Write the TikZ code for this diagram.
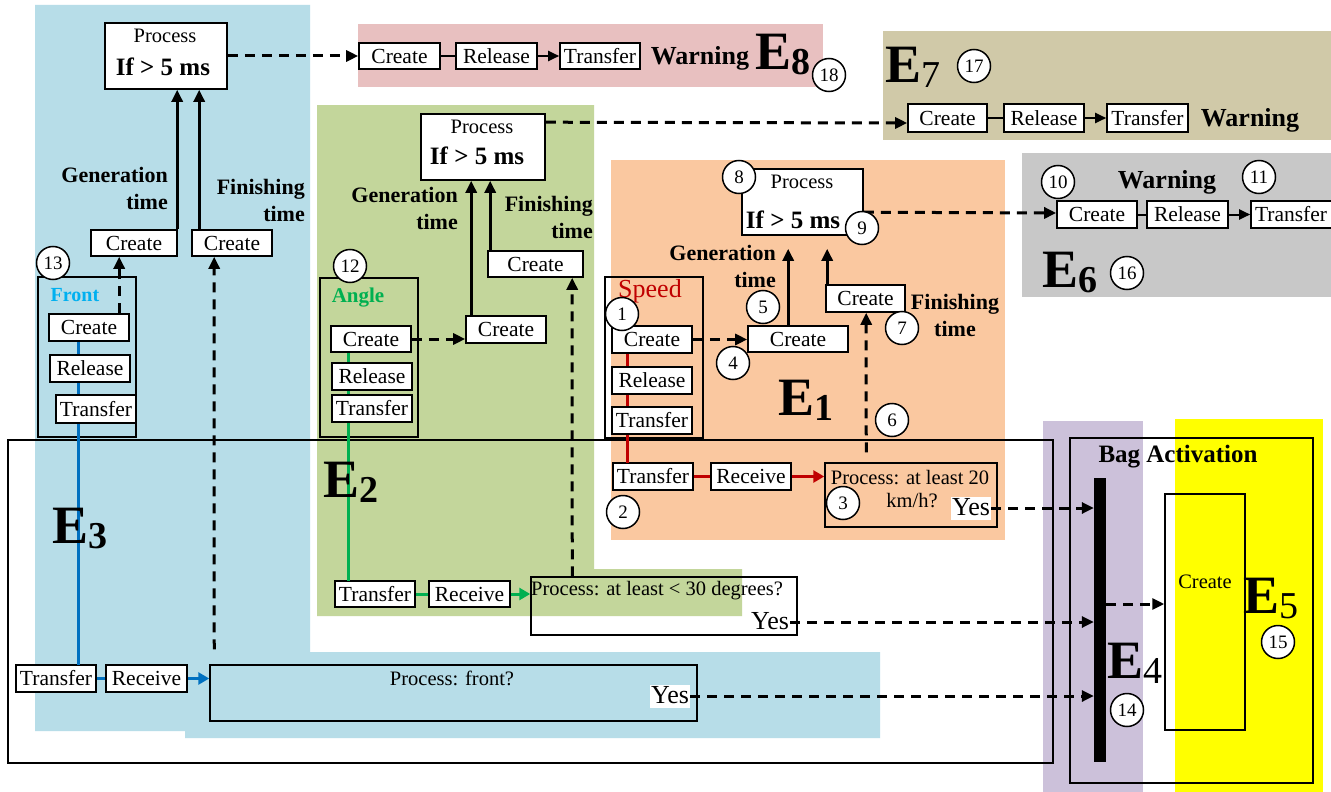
\documentclass[tikz,border=0pt]{standalone}
\usepackage{fontspec}
\setmainfont{Liberation Serif}
\usetikzlibrary{arrows.meta,calc}
\definecolor{bgblue}{HTML}{B7DDE8}
\definecolor{bggreen}{HTML}{C3D69B}
\definecolor{bgorange}{HTML}{FAC8A0}
\definecolor{bgpink}{HTML}{E8C0C0}
\definecolor{bgtan}{HTML}{D0C9A8}
\definecolor{bggray}{HTML}{C8C8C8}
\definecolor{bgpurple}{HTML}{CCC1DA}
\definecolor{bgyellow}{HTML}{FFFF00}
\definecolor{lred}{HTML}{C00000}
\definecolor{lgreen}{HTML}{00B050}
\definecolor{lblue}{HTML}{0070C0}
\definecolor{tblue}{HTML}{00B0F0}
\begin{document}
\begin{tikzpicture}[x=1pt,y=-1pt,
 box/.style={draw,fill=white,line width=1.6pt,inner sep=0pt,minimum width=80pt,minimum height=26pt,font=\fontsize{21.5}{21.5}\selectfont},
 frame/.style={draw,line width=1.5pt,inner sep=0pt},
 num/.style={circle,draw,fill=white,line width=1.5pt,minimum size=33pt,inner sep=0pt,font=\fontsize{19}{19}\selectfont},
 lbl/.style={inner sep=0pt,font=\fontsize{22}{27}\selectfont\bfseries},
 proca/.style={inner sep=0pt,font=\fontsize{20.5}{20.5}\selectfont},
 procb/.style={inner sep=0pt,font=\fontsize{25}{25}\selectfont\bfseries},
 warn/.style={inner sep=0pt,font=\fontsize{26}{26}\selectfont\bfseries},
 elbl/.style={inner sep=0pt,anchor=base west,font=\fontsize{54}{54}\selectfont\bfseries},
 yes/.style={fill=white,inner sep=1pt,text height=18pt,text depth=3pt,font=\fontsize{26}{26}\selectfont},
 solidarr/.style={line width=3pt,-{Triangle[length=12pt,width=11pt]}},
 dasharr/.style={line width=3pt,dash pattern=on 10pt off 7pt,-{Triangle[length=12pt,width=11pt]}},
 thinline/.style={line width=2pt},
 thinarr/.style={line width=2pt,-{Triangle[length=11pt,width=10pt]}},
]
\useasboundingbox (0,0) rectangle (1331,792);
\fill[white] (0,0) rectangle (1331,792);
% backgrounds
\fill[bgblue] (35,5) -- (310,5) -- (310,652) -- (880,652) -- (880,738) -- (185,738) -- (185,731) -- (35,731) -- cycle;
\fill[bggreen] (317,105) -- (594,105) -- (594,569) -- (742,569) -- (742,616) -- (317,616) -- cycle;
\fill[bgorange] (611,160) rectangle (1005,540);
\fill[bgpink] (358,24) rectangle (823,87);
\fill[bgtan] (883,31) rectangle (1331,140);
\fill[bggray] (1022,153) rectangle (1331,297);
\fill[bgpurple] (1043,421) rectangle (1143,792);
\fill[bgyellow] (1175,419) rectangle (1323,792);
% frames
\node[frame,minimum width=1045pt,minimum height=323pt] (bigframe) at (530.5,601.5) {};
\node[frame,minimum width=243pt,minimum height=345pt] (bagrect) at (1191.5,610.5) {};
\node[frame,minimum width=98pt,minimum height=160pt] (frontbox) at (87,357) {};
\node[frame,minimum width=98pt,minimum height=159pt] (anglebox) at (369,357.5) {};
\node[frame,minimum width=98pt,minimum height=161pt] (speedbox) at (654,357.5) {};
\node[frame,minimum width=80pt,minimum height=236pt] (e5create) at (1205,612) {};
\node[proca] (e5createl) at (1205,582) {Create};
\node[fill=black,inner sep=0pt,minimum width=12pt,minimum height=284pt] (bar) at (1100,620) {};
% bottom process boxes (unfilled)
\node[frame,minimum width=487pt,minimum height=56pt] (bFront) at (453.5,693) {};
\node[frame,minimum width=266pt,minimum height=58pt] (grProc) at (664,606) {};
\node[frame,minimum width=172pt,minimum height=64pt] (sProc) at (911,495) {};
% nodes: blue column
\node[box,minimum width=122pt,minimum height=66pt] (procA) at (166,56) {};
\node[box,minimum width=86pt] (createA1) at (134,243) {Create};
\node[box] (createA2) at (232,243) {Create};
\node[box,minimum height=27pt] (bTransfer) at (56,678.5) {Transfer};
\node[box,minimum width=81pt,minimum height=27pt] (bReceive) at (146.5,678.5) {Receive};
% green
\node[box,minimum width=124pt,minimum height=66pt] (procB) at (483,147) {};
\node[box,minimum width=95pt] (cBfin) at (535.5,264) {Create};
\node[box,minimum height=27pt] (cBgen) at (506,329.5) {Create};
\node[box] (grTransfer) at (375,594) {Transfer};
\node[box,minimum width=81pt] (grReceive) at (469.5,594) {Receive};
% orange
\node[box,minimum width=121pt,minimum height=66pt] (procC) at (802.5,202) {};
\node[box,minimum width=100pt] (cCgen) at (798,339) {Create};
\node[box,minimum width=79pt,minimum height=27pt] (cCfin) at (865.5,298.5) {Create};
\node[box,minimum height=27pt] (sbTransfer) at (653,476.5) {Transfer};
\node[box,minimum height=27pt] (sbReceive) at (751,476.5) {Receive};
% colored vertical lines (behind boxes)
\draw[lblue,line width=3pt] (78,341) -- (78,665);
\draw[lgreen,line width=3pt] (348,352) -- (348,581);
\draw[lred,line width=3pt] (627,353) -- (627,463);
% column boxes
\node[box,minimum height=27pt] (fCreate) at (89,327.5) {Create};
\node[box,minimum height=27pt] (fRelease) at (90,368.5) {Release};
\node[box,minimum height=28pt] (fTransfer) at (96,409) {Transfer};
\node[box] (aCreate) at (371,339) {Create};
\node[box,minimum height=27pt] (aRelease) at (372,376.5) {Release};
\node[box,minimum height=27pt] (aTransfer) at (372,408.5) {Transfer};
\node[box,minimum height=27pt] (sCreate) at (652,339.5) {Create};
\node[box,minimum height=27pt] (sRelease) at (652,380.5) {Release};
\node[box,minimum height=27pt] (sTransfer) at (652,420.5) {Transfer};
% warning rows
\node[box,minimum width=81pt] (pCreate) at (399.5,56) {Create};
\node[box,minimum width=81pt] (pRelease) at (496.5,56) {Release};
\node[box] (pTransfer) at (600,56) {Transfer};
\node[box,minimum width=79pt,minimum height=28pt] (tCreate) at (947.5,118) {Create};
\node[box,minimum height=28pt] (tRelease) at (1044,118) {Release};
\node[box,minimum width=81pt,minimum height=28pt] (tTransfer) at (1147.5,118) {Transfer};
\node[box,minimum height=27pt] (g6Create) at (1097,214.5) {Create};
\node[box,minimum width=81pt,minimum height=27pt] (g6Release) at (1187.5,214.5) {Release};
\node[box,minimum width=90pt,minimum height=27pt] (g6Transfer) at (1296,214.5) {\makebox[90pt][l]{\hspace{4pt}Transfer}};
% row connectors
\draw[thinline] (pCreate.east) -- (pRelease.west);
\draw[thinarr] (pRelease.east) -- (pTransfer.west);
\draw[thinline] (tCreate.east) -- (tRelease.west);
\draw[thinarr] (tRelease.east) -- (tTransfer.west);
\draw[thinline] (g6Create.east) -- (g6Release.west);
\draw[thinarr] (g6Release.east) -- (g6Transfer.west);
\draw[lblue,line width=3pt] (bTransfer.east) -- (bReceive.west);
\draw[lblue,line width=3pt,-{Triangle[length=11pt,width=12pt]}] (bReceive.east) -- (bReceive.east -| bFront.west);
\draw[lgreen,line width=3pt] (grTransfer.east) -- (grReceive.west);
\draw[lgreen,line width=3pt,-{Triangle[length=11pt,width=12pt]}] (grReceive.east) -- (grReceive.east -| grProc.west);
\draw[lred,line width=3pt] (sbTransfer.east) -- (sbReceive.west);
\draw[lred,line width=3pt,-{Triangle[length=11pt,width=12pt]}] (sbReceive.east) -- (sbReceive.east -| sProc.west);
% solid time arrows
\draw[solidarr] ($(createA1.north west)+(87,0)$) -- ($(procA.south west)+(73,0)$);
\draw[solidarr] ($(createA2.north west)+(8,0)$) -- ($(procA.south west)+(95,0)$);
\draw[solidarr] ($(cBgen.north west)+(6,0)$) -- ($(procB.south west)+(51,0)$);
\draw[solidarr] ($(cBfin.north west)+(3,0)$) -- ($(procB.south west)+(70,0)$);
\draw[solidarr] ($(cCgen.north west)+(41,0)$) -- ($(procC.south west)+(47,13)$);
\draw[solidarr] ($(cCfin.north west)+(2,0)$) -- ($(procC.south west)+(86,13)$);
% dashed arrows
\draw[dasharr] ($(fCreate.north west)+(71,0)$) -- ($(createA1.south west)+(29,0)$);
\draw[dasharr,shorten <=15pt] ($(bFront.north west)+(5,0)$) -- ($(createA2.south west)+(23,0)$);
\draw[dasharr] ($(grProc.north west)+(42,0)$) -- ($(cBfin.south west)+(85,0)$);
\draw[dasharr,shorten <=10pt] ($(sProc.north west)+(42,0)$) -- ($(cCfin.south west)+(41,0)$);
\draw[dasharr] (aCreate.east) -- (aCreate.east -| cBgen.west);
\draw[dasharr] (sCreate.east) -- (sCreate.east -| cCgen.west);
\draw[dasharr] (procA.east) -- (pCreate.west);
\draw[dasharr] ($(procB.north east)+(0,9)$) -- ($(tCreate.west)+(0,5)$);
\draw[dasharr] ($(procC.north east)+(0,44)$) -- ($(g6Create.west)+(0,-1.5)$);
\draw[dasharr] ($(bar.east)+(0,-16)$) -- ($(e5create.west)+(0,-8)$);
% yes boxes and arrows to bar
\node[yes] (sYes) at (971,508) {Yes};
\node[yes] (grYes) at (770,622) {Yes};
\node[yes] (bYes) at (670,696) {Yes};
\draw[dasharr] (sYes.east) -- (sYes.east -| bar.west);
\draw[dasharr] (grYes.east) -- (grYes.east -| bar.west);
\draw[dasharr] (bYes.east) -- (bYes.east -| bar.west);
% process texts
\node[proca] (procAl1) at (165,36) {Process};
\node[procb] (procAl2) at (163,67) {If > 5 ms};
\node[proca] (procBl1) at (482,127) {Process};
\node[procb] (procBl2) at (477,156) {If > 5 ms};
\node[proca] (procCl1) at (802,182) {Process};
\node[procb] (procCl2) at (793,220) {If > 5 ms};
\node[proca] (bFrontl) at (452,678) {Process: front?};
\node[proca,anchor=west] (grProcl) at (531,591) {Process: at least < 30 degrees?};
\node[proca] (sProcl1) at (910,478) {Process: at least 20};
\node[proca] (sProcl2) at (912,501) {km/h?};
% time labels
\node[lbl,anchor=east,align=right] (genA) at (168,188) {Generation\\time};
\node[lbl,anchor=east,align=right] (finA) at (305,200) {Finishing\\time};
\node[lbl,anchor=east,align=right] (genB) at (458,208) {Generation\\time};
\node[lbl,anchor=east,align=right] (finB) at (593,217) {Finishing\\time};
\node[lbl,anchor=east,align=right] (genC) at (776,266) {Generation\\time};
\node[lbl,align=center] (finC) at (955,315) {Finishing\\time};
% group titles
\node[inner sep=0pt,font=\fontsize{20}{20}\selectfont\bfseries,text=tblue] (frontl) at (75,295) {Front};
\node[inner sep=0pt,font=\fontsize{21}{21}\selectfont\bfseries,text=lgreen] (anglel) at (358,298) {Angle};
\node[inner sep=0pt,font=\fontsize{26}{26}\selectfont,text=lred] (speedl) at (650,291) {Speed};
\node[inner sep=0pt,font=\fontsize{25}{25}\selectfont\bfseries] (bagl) at (1178,457) {Bag Activation};
\node[warn] (warn8) at (700,58) {Warning};
\node[warn] (warn7) at (1250,120) {Warning};
\node[warn] (warn6) at (1167,182) {Warning};
% E labels
\node[elbl] (E1) at (778,415) {E\raisebox{-5pt}{\fontsize{38}{38}\selectfont 1}};
\node[elbl] (E2) at (323,497) {E\raisebox{-5pt}{\fontsize{38}{38}\selectfont 2}};
\node[elbl] (E3) at (52,543) {E\raisebox{-5pt}{\fontsize{38}{38}\selectfont 3}};
\node[elbl] (E4) at (1107,678) {E\raisebox{-5pt}{\fontsize{38}{38}\selectfont\mdseries 4}};
\node[elbl] (E5) at (1243,613) {E\raisebox{-5pt}{\fontsize{38}{38}\selectfont\mdseries 5}};
\node[elbl] (E6) at (1042,287) {E\raisebox{-5pt}{\fontsize{38}{38}\selectfont 6}};
\node[elbl] (E7) at (885,83) {E\raisebox{-5pt}{\fontsize{38}{38}\selectfont\mdseries 7}};
\node[elbl] (E8) at (755,70) {E\raisebox{-5pt}{\fontsize{38}{38}\selectfont 8}};
% numbered circles
\node[num] (n1) at (622,314) {1};
\node[num] (n2) at (623,512) {2};
\node[num] (n3) at (843,503) {3};
\node[num] (n4) at (733,363) {4};
\node[num] (n5) at (763,307) {5};
\node[num] (n6) at (892,420) {6};
\node[num] (n7) at (902,328) {7};
\node[num] (n8) at (739,177) {8};
\node[num] (n9) at (862,228) {9};
\node[num] (n10) at (1058,182) {10};
\node[num] (n11) at (1259,177) {11};
\node[num] (n12) at (350,266) {12};
\node[num] (n13) at (53,263) {13};
\node[num] (n14) at (1127,710) {14};
\node[num] (n15) at (1278,642) {15};
\node[num] (n16) at (1127,273) {16};
\node[num] (n17) at (974,66) {17};
\node[num] (n18) at (829,75) {18};
\end{tikzpicture}
\end{document}
